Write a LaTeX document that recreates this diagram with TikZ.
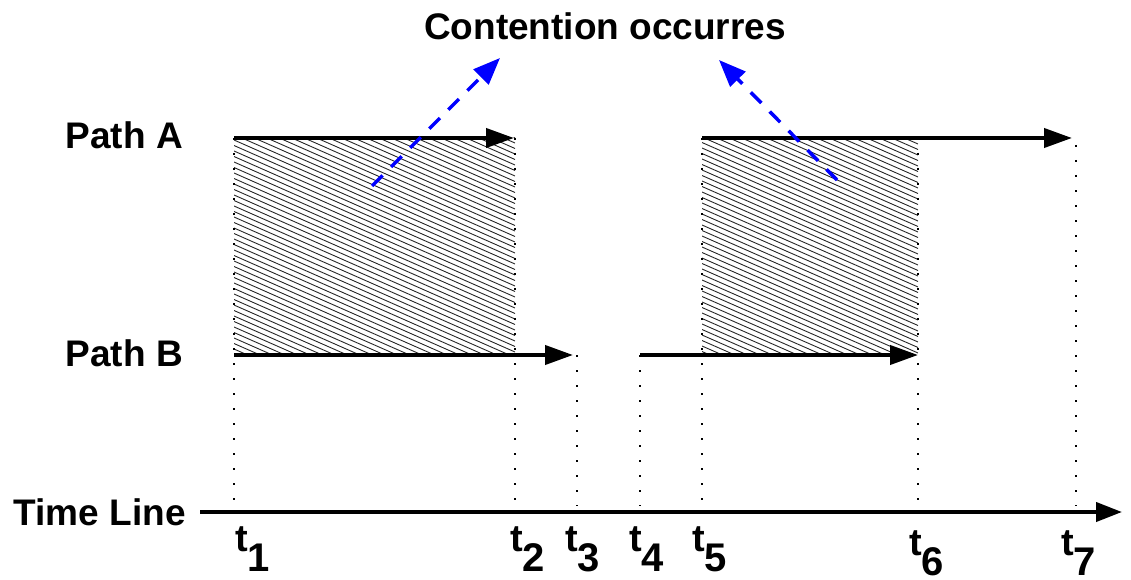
\documentclass[tikz,border=0pt]{standalone}
\usepackage{fontspec}
\setmainfont{Liberation Sans}
\usetikzlibrary{arrows.meta}
\tikzset{
  patharrow/.style={line width=4pt, -{Triangle[length=28pt,width=19pt]}},
  timearrow/.style={line width=4pt, -{Triangle[length=26pt,width=19pt]}},
  guide/.style={line width=2pt, dash pattern=on 2pt off 13pt},
  hatchline/.style={line width=0.9pt, black!85},
  contarrow/.style={draw=blue, line width=3.5pt, dash pattern=on 15pt off 12pt, -{Triangle[length=27pt,width=21pt,fill=blue]}},
  lbl/.style={font=\fontsize{37}{40}\selectfont\bfseries, inner sep=0pt},
  tlbl/.style={inner sep=0pt, anchor=base west, font=\bfseries}
}
\newcommand{\tsub}[1]{{\fontsize{38}{38}\selectfont t}{\fontsize{40}{40}\selectfont\raisebox{-20pt}{#1}}}
\begin{document}
\begin{tikzpicture}[x=1pt,y=-1pt]
\useasboundingbox (0,0) rectangle (1131,580);
% hatched regions
\begin{scope}
  \clip (234,138) rectangle (515,355);
  \foreach \k in {-130,-124.5,...,222} \draw[hatchline] (234,138+\k) -- ++(281,124);
\end{scope}
\begin{scope}
  \clip (702,138) rectangle (918,355);
  \foreach \k in {-100,-94.5,...,222} \draw[hatchline] (702,138+\k) -- ++(216,95);
\end{scope}
% coordinates
\coordinate (a1s) at (234,138); \coordinate (a1e) at (514,138);
\coordinate (a2s) at (702,138); \coordinate (a2e) at (1072,138);
\coordinate (b1s) at (234,355); \coordinate (b1e) at (573,355);
\coordinate (b2s) at (640,355); \coordinate (b2e) at (918,355);
\coordinate (tls) at (200,512); \coordinate (tle) at (1122,512);
\coordinate (g1t) at (234,138); \coordinate (g1b) at (234,506);
\coordinate (g2t) at (515,138); \coordinate (g2b) at (515,506);
\coordinate (g3t) at (577,355); \coordinate (g3b) at (577,506);
\coordinate (g4t) at (640,355); \coordinate (g4b) at (640,506);
\coordinate (g5t) at (702,138); \coordinate (g5b) at (702,506);
\coordinate (g6t) at (918,138); \coordinate (g6b) at (918,506);
\coordinate (g7t) at (1076,145); \coordinate (g7b) at (1076,506);
% guides
\foreach \i in {1,...,7} \draw[guide] (g\i t) -- (g\i b);
% path arrows
\draw[patharrow] (a1s) -- (a1e);
\draw[patharrow] (a2s) -- (a2e);
\draw[patharrow] (b1s) -- (b1e);
\draw[patharrow] (b2s) -- (b2e);
\draw[timearrow] (tls) -- (tle);
% contention arrows
\coordinate (c1s) at (372,186); \coordinate (c1e) at (500,58);
\coordinate (c2s) at (837,180); \coordinate (c2e) at (719,60);
\draw[contarrow] (c1s) -- (c1e);
\draw[contarrow] (c2s) -- (c2e);
% labels
\node[lbl, anchor=base] (title) at (605,40) {Contention occurres};
\node[lbl, anchor=base east] (pa) at (183,149) {Path A};
\node[lbl, anchor=base east] (pb) at (183,366) {Path B};
\node[lbl, anchor=base east] (tl) at (186,525) {Time Line};
\node[tlbl] (t1) at (235,551) {\tsub{1}};
\node[tlbl] (t2) at (510,551) {\tsub{2}};
\node[tlbl] (t3) at (565,551) {\tsub{3}};
\node[tlbl] (t4) at (629,551) {\tsub{4}};
\node[tlbl] (t5) at (692,551) {\tsub{5}};
\node[tlbl] (t6) at (909,555) {\tsub{6}};
\node[tlbl] (t7) at (1061,555) {\tsub{7}};
\end{tikzpicture}
\end{document}
